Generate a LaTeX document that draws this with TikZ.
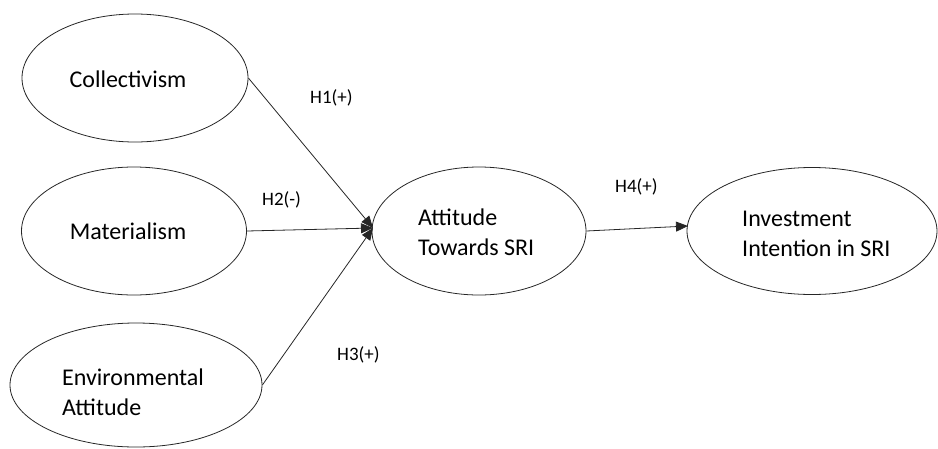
\documentclass[tikz,border=0pt]{standalone}
\usepackage{fontspec}
\setmainfont{Carlito}
\usetikzlibrary{arrows.meta,shapes.geometric}
\tikzset{
  construct/.style={draw=black!85, line width=0.8pt, ellipse, inner sep=0pt},
  ctext/.style={font=\fontsize{24}{30}\selectfont, inner sep=0pt},
  hlabel/.style={font=\fontsize{19}{23}\selectfont, inner sep=0pt, anchor=base west},
  path/.style={draw=black!85, line width=0.8pt, -{Triangle[length=12pt,width=10pt]}}
}
\begin{document}
\begin{tikzpicture}[x=1pt,y=-1pt]
\useasboundingbox (0,0) rectangle (938,448);
% ellipses
\node[construct, minimum width=226pt, minimum height=128pt] (col) at (135,78) {};
\node[construct, minimum width=225pt, minimum height=128pt] (mat) at (134,231) {};
\node[construct, minimum width=252pt, minimum height=124pt] (env) at (136,385) {};
\node[construct, minimum width=214pt, minimum height=128pt] (att) at (479,231) {};
\node[construct, minimum width=250pt, minimum height=127pt] (inv) at (812,231) {};
% texts
\node[ctext, anchor=base] (colt) at (128,87) {Collectivism};
\node[ctext, anchor=base] (matt) at (128,239) {Materialism};
\node[ctext, anchor=west, align=left] (envt) at (62,392) {Environmental\\Attitude};
\node[ctext, anchor=west, align=left] (attt) at (418,232) {Attitude\\Towards SRI};
\node[ctext, anchor=west, align=left] (invt) at (742,234) {Investment\\Intention in SRI};
% connectors
\coordinate (conv) at (373,228);
\coordinate (invin) at (688,226);
\draw[path] (col.east) -- (conv);
\draw[path] (mat.east) -- (conv);
\draw[path] (env.east) -- (conv);
\draw[path] (att.east) -- (invin);
% labels
\node[hlabel] (h1) at (310,103) {H1(+)};
\node[hlabel] (h2) at (262,205) {H2(-)};
\node[hlabel] (h3) at (337,360) {H3(+)};
\node[hlabel] (h4) at (615,192) {H4(+)};
\end{tikzpicture}
\end{document}
